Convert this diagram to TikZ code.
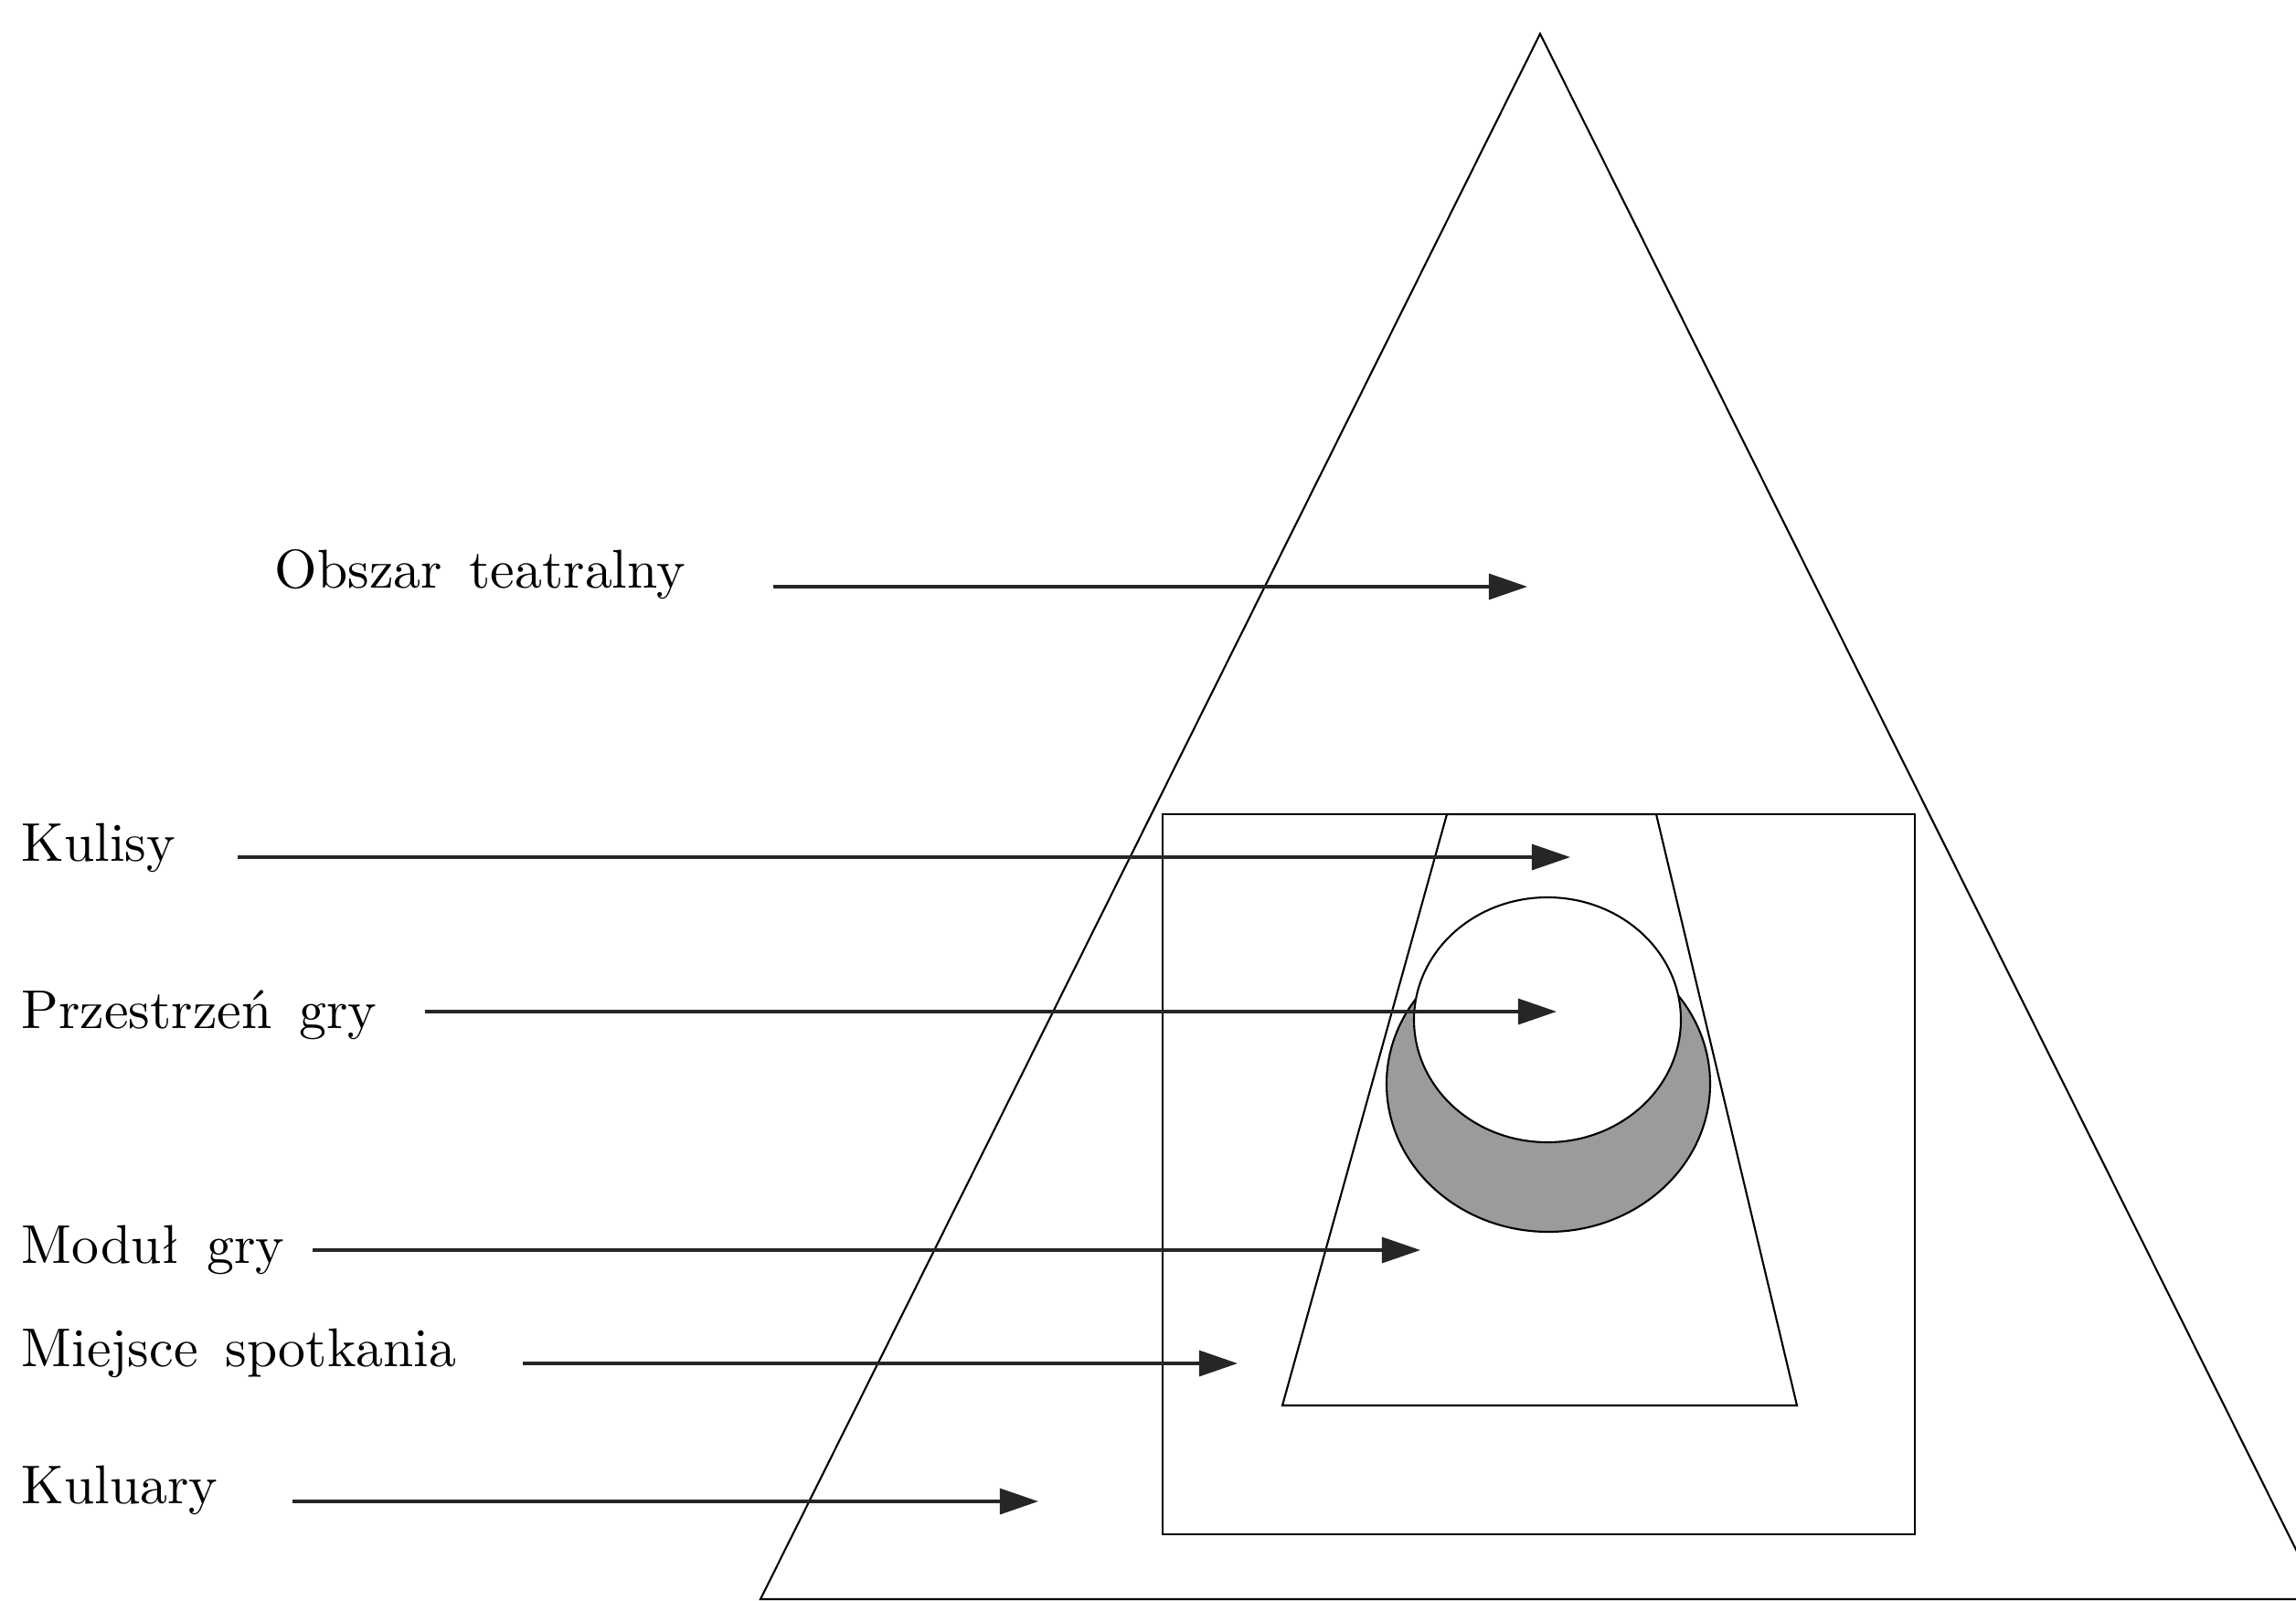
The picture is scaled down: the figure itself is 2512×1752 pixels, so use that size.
\documentclass[tikz,border=0pt]{standalone}
\usepackage{fontspec}
\usepackage{xcolor}
\usepackage{tikz}
\usetikzlibrary{arrows.meta,positioning,calc}
\newfontfamily\zonefont{lmroman10-regular}[Extension=.otf,WordSpace=1.5]
\definecolor{crescentgray}{RGB}{157,154,156}
\tikzset{
  zone/.style={draw,line width=.6pt,line join=miter},
  zonelabel/.style={anchor=base west,inner sep=0pt,font=\zonefont\fontsize{17}{20}\selectfont},
  zarrow/.style={-{Triangle[length=4.2mm,width=2.8mm]},line width=.9pt,draw=black!85}
}

\begin{document}
\begin{tikzpicture}[x=0.01cm,y=-0.01cm]
  \useasboundingbox (0,0) rectangle (2512,1752);
  \clip (0,0) rectangle (2512,1752);
  % triangle, square, trapezoid
  \draw[zone] (1685,37) -- (2539,1750) -- (832,1750) -- cycle;
  \draw[zone] (1272,891) rectangle (2095,1679);
  \draw[zone,fill=crescentgray] (1694,1186) ellipse [x radius=177,y radius=162];
  \draw[zone,fill=white] (1693,1116) ellipse [x radius=146,y radius=134];
  \draw[zone] (1583,891) -- (1812,891) -- (1966,1538) -- (1403,1538) -- cycle;
  % labels
  \node[zonelabel] (obszar) at (300,643) {Obszar teatralny};
  \node[zonelabel] (kulisy) at (23,942) {Kulisy};
  \node[zonelabel] (przestrzen) at (23,1125) {Przestrzeń gry};
  \node[zonelabel] (modul) at (23,1382) {Moduł gry};
  \node[zonelabel] (miejsce) at (23,1495) {Miejsce spotkania};
  \node[zonelabel] (kuluary) at (23,1645) {Kuluary};
  % arrow ends
  \coordinate (obszar-s) at (846,642);   \coordinate (obszar-t) at (1671,642);
  \coordinate (kulisy-s) at (260,938);   \coordinate (kulisy-t) at (1718,938);
  \coordinate (przestrzen-s) at (465,1107); \coordinate (przestrzen-t) at (1703,1107);
  \coordinate (modul-s) at (342,1368);   \coordinate (modul-t) at (1554,1368);
  \coordinate (miejsce-s) at (572,1492); \coordinate (miejsce-t) at (1354,1492);
  \coordinate (kuluary-s) at (320,1643); \coordinate (kuluary-t) at (1136,1643);
  \draw[zarrow] (obszar-s)--(obszar-t);
  \draw[zarrow] (kulisy-s)--(kulisy-t);
  \draw[zarrow] (przestrzen-s)--(przestrzen-t);
  \draw[zarrow] (modul-s)--(modul-t);
  \draw[zarrow] (miejsce-s)--(miejsce-t);
  \draw[zarrow] (kuluary-s)--(kuluary-t);
\end{tikzpicture}
\end{document}
